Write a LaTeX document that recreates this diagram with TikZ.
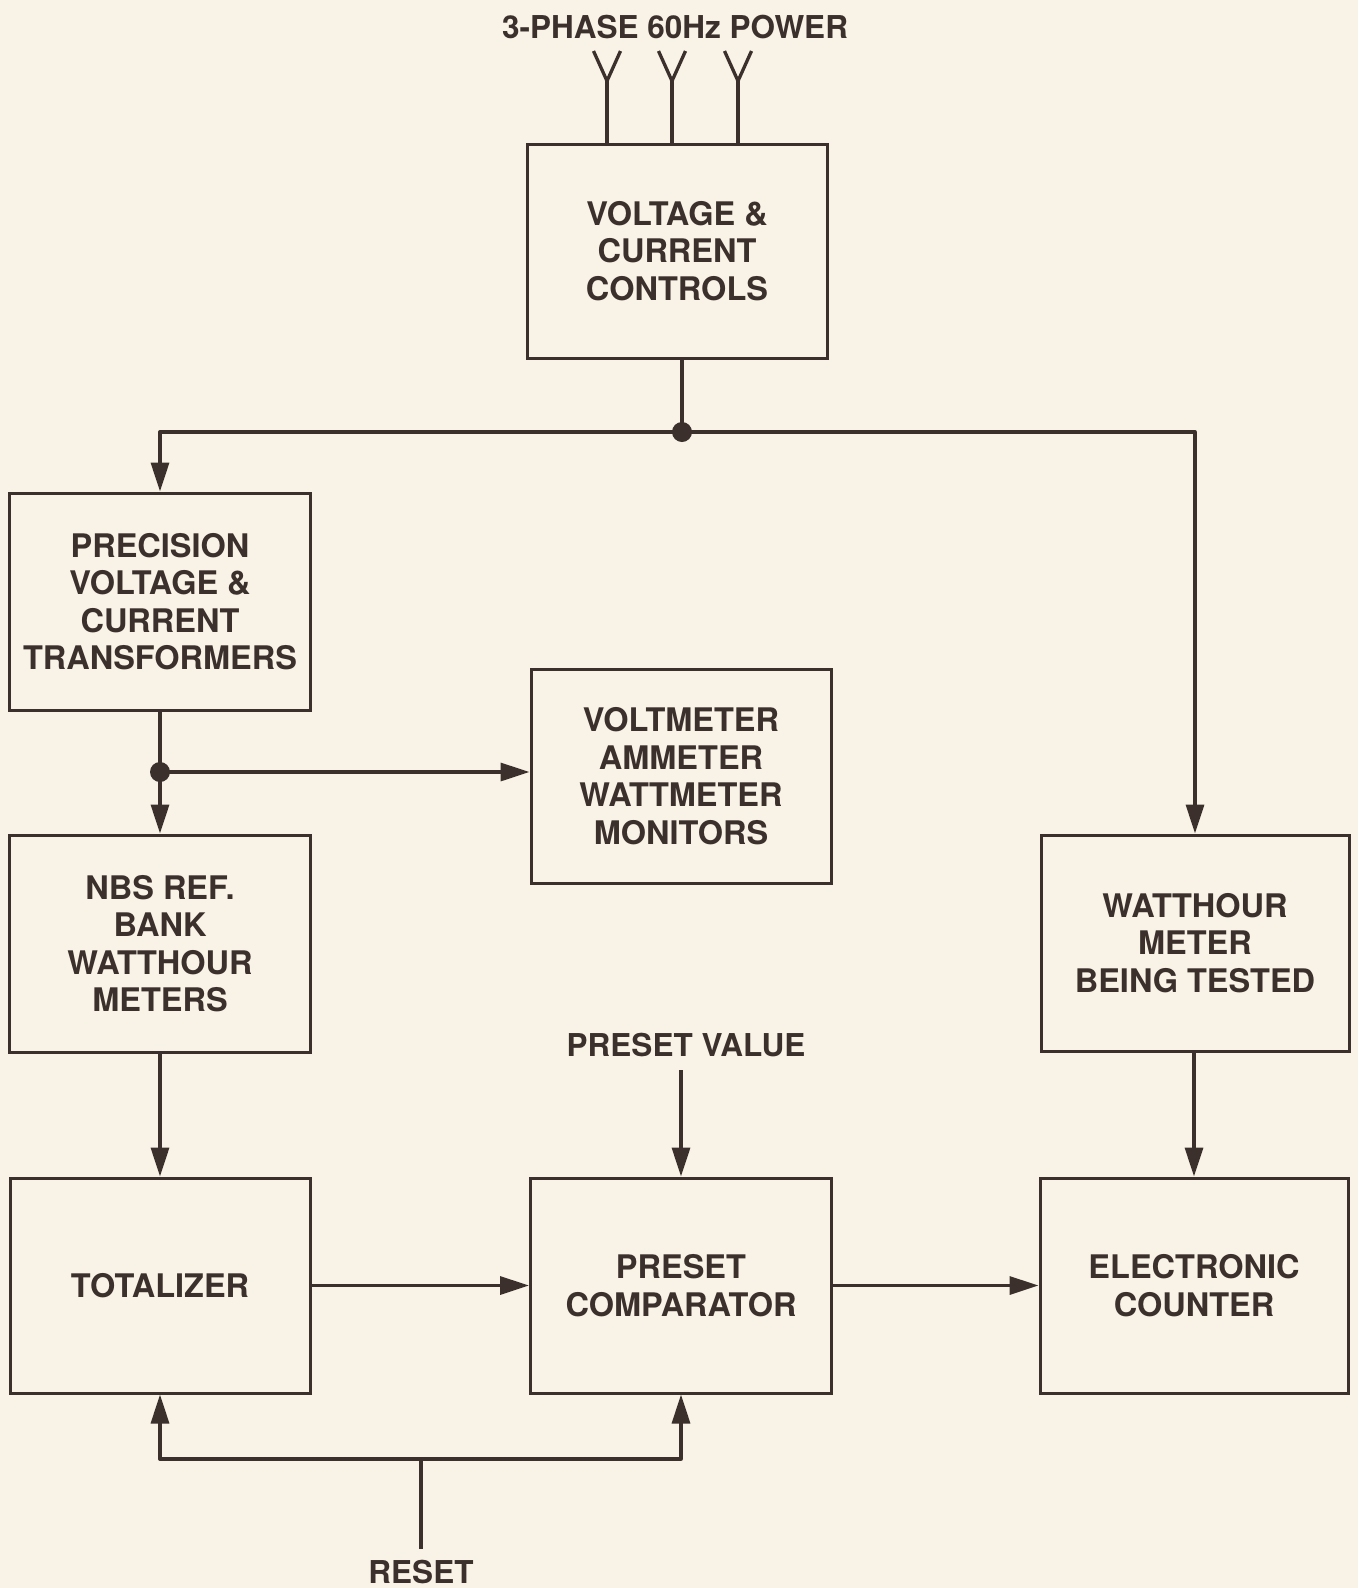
\documentclass[tikz,border=0pt]{standalone}
\usepackage{fontspec}
\setmainfont{TeX Gyre Heros}
\usetikzlibrary{arrows.meta}
\definecolor{paper}{HTML}{F8F3E6}
\definecolor{ink}{HTML}{3B302C}
\begin{document}
\begin{tikzpicture}[x=1pt,y=-1pt,
  every node/.style={text=ink,font=\fontsize{31.5}{38}\selectfont\bfseries},
  blk/.style={draw=ink,line width=3pt,align=center,inner sep=0pt,
    font=\fontsize{32.5}{37.5}\selectfont\bfseries},
  wire/.style={draw=ink,line width=3.3pt,line join=round},
  flow/.style={wire,-{Triangle[length=29pt,width=18pt]}},
  dot/.style={circle,fill=ink,inner sep=0pt,minimum size=20pt},
  lbl/.style={inner sep=0pt}]
\fill[paper] (0,0) rectangle (1358,1588);
\useasboundingbox (0,0) rectangle (1358,1588);

% blocks
\node[blk,minimum width=300pt,minimum height=214pt] (vcc) at (677,251) {VOLTAGE \&\\CURRENT\\CONTROLS};
\node[blk,minimum width=301pt,minimum height=217pt] (pvct) at (160,601.5) {PRECISION\\VOLTAGE \&\\CURRENT\\TRANSFORMERS};
\node[blk,minimum width=300pt,minimum height=214pt] (mon) at (681,776) {VOLTMETER\\AMMETER\\WATTMETER\\MONITORS};
\node[blk,minimum width=301pt,minimum height=217pt] (nbs) at (160,943.5) {NBS REF.\\BANK\\WATTHOUR\\METERS};
\node[blk,minimum width=308pt,minimum height=216pt] (wmt) at (1195,943) {WATTHOUR\\METER\\BEING TESTED};
\node[blk,minimum width=300pt,minimum height=215pt] (tot) at (160,1285.5) {TOTALIZER};
\node[blk,minimum width=301pt,minimum height=215pt] (cmp) at (681,1285.5) {PRESET\\COMPARATOR};
\node[blk,minimum width=308pt,minimum height=215pt] (cnt) at (1194,1285.5) {ELECTRONIC\\COUNTER};

% free labels
\node[lbl] (power) at (675,27) {3-PHASE 60Hz POWER};
\node[lbl] (pv) at (686,1045) {PRESET VALUE};
\node[lbl] (reset) at (421,1572) {RESET};

% three-phase input terminals
\foreach \n/\xx in {a1/607,a2/672,a3/738}{
  \coordinate (\n) at (\xx,81);
  \draw[wire] (\n) -- (\n |- vcc.north);
  \draw[wire] ([xshift=-13.5pt,yshift=30pt]\n) -- (\n) -- ([xshift=13.5pt,yshift=30pt]\n);
}

% distribution from the controls
\coordinate (j1) at (682,432);
\draw[wire] (vcc.south -| j1) -- (j1);
\draw[flow] (j1) -| (pvct.north);
\draw[flow] (j1) -| (wmt.north);
\node[dot] (d1) at (j1) {};

% transformer outputs
\coordinate (j2) at (pvct.south |- 0,772);
\draw[flow] (pvct.south) -- (nbs.north);
\draw[flow] (j2) -- (mon.west |- j2);
\node[dot] (d2) at (j2) {};

% counting chain
\draw[flow] (nbs.south) -- (tot.north);
\draw[flow] (wmt.south -| cnt.north) -- (cnt.north);
\draw[flow] (tot.east) -- (cmp.west);
\draw[flow] (cmp.east) -- (cnt.west);
\coordinate (pvin) at (681,1070);
\draw[flow] (pvin) -- (cmp.north);

% reset bus
\coordinate (rs) at (421,1549);
\coordinate (rbus) at (421,1459);
\draw[wire] (rs) -- (rbus);
\draw[flow] (rbus) -| (tot.south);
\draw[flow] (rbus) -| (cmp.south);
\end{tikzpicture}
\end{document}
